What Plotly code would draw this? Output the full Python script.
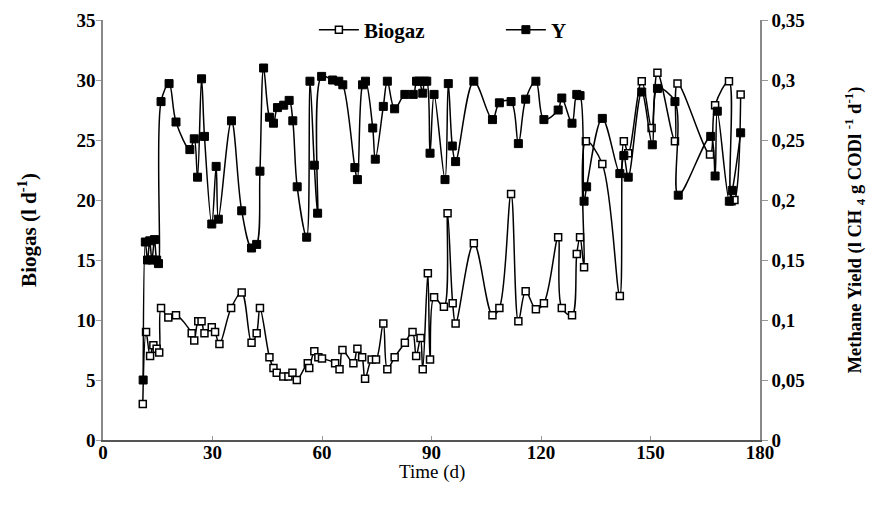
import plotly.graph_objects as go

# Biogas (l/d) - open squares
biogas_day = [10.9, 11.8, 12.9, 13.8, 14.7, 15.4, 15.9, 17.9, 20.0,
              24.3, 25.0, 26.1, 27.0, 27.8, 29.8, 30.7, 31.9, 35.1, 38.0,
              40.7, 42.1, 43.0, 45.6, 46.7, 47.6, 49.4, 50.8, 51.9, 53.1,
              56.1, 56.5, 57.9, 59.0, 60.0, 63.6, 64.8, 65.6, 68.6, 69.7,
              71.0, 71.8, 73.6, 74.8, 76.8, 77.9, 79.9, 82.7, 84.8, 85.8,
              87.0, 87.6, 89.0, 89.6, 90.7, 93.4, 94.4, 95.8, 96.6, 101.6,
              106.7, 108.6, 111.8, 113.8, 115.8, 118.6, 120.8, 124.7, 125.7, 128.5,
              129.8, 130.7, 131.8, 132.3, 136.8, 141.6, 142.7, 143.9, 147.6, 150.3,
              151.9, 156.7, 157.4, 166.3, 167.7, 171.5, 172.2, 173.0, 174.7]
biogas_val = [3.0, 9.0, 7.0, 7.9, 7.6, 7.3, 11.0, 10.2, 10.4,
              8.9, 8.3, 9.9, 9.9, 8.9, 9.4, 9.0, 8.0, 11.0, 12.3,
              8.1, 8.9, 11.0, 6.9, 6.0, 5.6, 5.3, 5.3, 5.6, 5.0,
              6.4, 6.0, 7.4, 6.9, 6.8, 6.4, 5.9, 7.5, 6.4, 7.6,
              6.9, 5.1, 6.7, 6.7, 9.7, 5.9, 6.9, 8.1, 9.0, 7.0,
              8.5, 5.9, 13.9, 6.7, 11.9, 11.1, 18.9, 11.4, 9.7, 16.4,
              10.4, 11.0, 20.5, 9.9, 12.4, 10.9, 11.4, 16.9, 11.0, 10.4,
              15.5, 16.9, 14.4, 24.9, 23.0, 12.0, 24.9, 23.9, 29.9, 26.0,
              30.6, 24.9, 29.7, 23.8, 27.9, 29.9, 19.9, 20.0, 28.8]

# Methane yield Y - filled squares
y_day = [11.0, 11.6, 12.2, 12.8, 13.4, 14.1, 14.7, 15.2, 15.9, 18.1,
         20.0, 23.8, 25.0, 25.9, 27.0, 27.8, 29.8, 31.0, 31.6, 35.2,
         38.0, 40.7, 42.1, 43.0, 44.0, 45.6, 46.7, 47.8, 49.5, 51.0,
         52.0, 53.2, 55.8, 56.7, 57.9, 58.8, 59.9, 62.9, 64.6, 65.7,
         69.0, 69.7, 71.1, 71.9, 73.9, 74.6, 76.8, 77.9, 79.9, 82.7,
         85.0, 85.9, 86.6, 87.6, 88.1, 88.7, 89.6, 90.7, 93.7, 94.6,
         95.7, 96.6, 101.6, 106.7, 108.6, 111.8, 113.8, 115.8, 118.6, 120.8,
         124.7, 125.7, 128.5, 129.8, 130.7, 131.8, 132.5, 136.8, 141.6, 142.7,
         143.9, 147.6, 150.5, 151.9, 156.7, 157.6, 166.5, 167.7, 168.3, 171.6,
         172.4, 174.7]
y_val = [0.050, 0.165, 0.150, 0.166, 0.150, 0.167, 0.150, 0.147, 0.282, 0.297,
         0.265, 0.242, 0.251, 0.219, 0.301, 0.253, 0.180, 0.228, 0.184, 0.266,
         0.191, 0.160, 0.163, 0.224, 0.310, 0.269, 0.264, 0.277, 0.279, 0.283,
         0.266, 0.211, 0.169, 0.299, 0.229, 0.189, 0.303, 0.300, 0.299, 0.296,
         0.227, 0.217, 0.296, 0.299, 0.260, 0.234, 0.278, 0.299, 0.276, 0.288,
         0.288, 0.299, 0.299, 0.289, 0.299, 0.299, 0.239, 0.288, 0.217, 0.297,
         0.245, 0.232, 0.299, 0.267, 0.281, 0.282, 0.247, 0.284, 0.299, 0.267,
         0.275, 0.285, 0.264, 0.288, 0.287, 0.199, 0.211, 0.268, 0.222, 0.237,
         0.219, 0.290, 0.246, 0.293, 0.282, 0.204, 0.253, 0.220, 0.274, 0.199,
         0.208, 0.256]

x_ticks = [0, 30, 60, 90, 120, 150, 180]
left_ticks = [0, 5, 10, 15, 20, 25, 30, 35]
right_ticks = [0, 0.05, 0.1, 0.15, 0.2, 0.25, 0.3, 0.35]
right_ticktext = ["0", "0,05", "0,1", "0,15", "0,2", "0,25", "0,3", "0,35"]

FONT = "Times New Roman, Liberation Serif, serif"

fig = go.Figure()
fig.add_trace(go.Scatter(
    x=biogas_day, y=biogas_val, name="<b>Biogaz</b>", mode="lines+markers",
    line=dict(color="black", width=1.5, shape="spline", smoothing=1.0),
    marker=dict(symbol="square", size=7, color="white",
                line=dict(color="black", width=1.5)),
))
fig.add_trace(go.Scatter(
    x=y_day, y=y_val, name="<b>Y</b>", mode="lines+markers", yaxis="y2",
    line=dict(color="black", width=1.5, shape="spline", smoothing=1.0),
    marker=dict(symbol="square", size=8, color="black",
                line=dict(color="black", width=1)),
))

fig.update_layout(
    width=869, height=512,
    margin=dict(l=103, r=109, t=20, b=72, autoexpand=False),
    paper_bgcolor="white", plot_bgcolor="white",
    font=dict(family=FONT, size=18, color="black"),
    showlegend=True,
    legend=dict(orientation="h", x=0.321, y=1.025, xanchor="left", yanchor="top",
                bgcolor="rgba(0,0,0,0)", font=dict(family=FONT, size=21),
                entrywidth=132, entrywidthmode="pixels", itemwidth=40),
    xaxis=dict(range=[0, 180], tickvals=x_ticks, ticks="inside", ticklen=4,
               tickcolor="#999", showline=True, linecolor="#555", linewidth=1.5,
               showgrid=False, zeroline=False, ticklabelstandoff=-6, automargin=False,
               tickfont=dict(family=FONT, size=19, weight="bold")),
    yaxis=dict(range=[0, 35], tickvals=left_ticks, ticks="outside", ticklen=5,
               tickcolor="#999", showline=True, linecolor="#888", linewidth=1.5,
               showgrid=False, zeroline=False, ticklabelstandoff=-3, automargin=False,
               tickfont=dict(family=FONT, size=19, weight="bold"),
               title=dict(text="<b>Biogas (l d<sup>-1</sup>)</b>",
                          font=dict(family=FONT, size=21), standoff=34)),
    yaxis2=dict(range=[0, 0.35], tickvals=right_ticks, ticktext=right_ticktext,
                overlaying="y", side="right", ticks="outside", ticklen=6,
                tickcolor="#999", showline=True, linecolor="#888", linewidth=1.5,
                showgrid=False, zeroline=False, automargin=False,
                tickfont=dict(family=FONT, size=19, weight="bold"),
                title=dict(text="<b>Methane Yield (l CH <sub>4</sub> g CODl <sup>-1</sup> d<sup>-1</sup>)</b>",
                           font=dict(family=FONT, size=18.5), standoff=44)),
    annotations=[dict(text="Time (d)", xref="paper", yref="paper", x=0.5, y=-0.077,
                      xanchor="center", yanchor="middle", showarrow=False,
                      font=dict(family=FONT, size=19))],
)

fig.write_html("out.html")
